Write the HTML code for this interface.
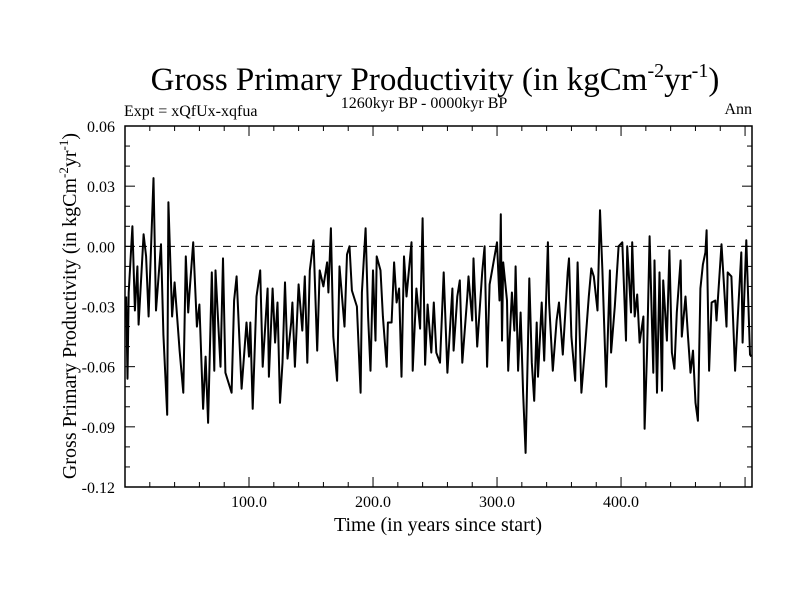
<!DOCTYPE html>
<html><head><meta charset="utf-8"><style>
body{margin:0;background:#fff}
svg{display:block;font-family:"Liberation Serif",serif}
</style></head><body>
<svg id="chart" width="800" height="600">
<text x="435" y="90" text-anchor="middle" font-size="33">Gross Primary Productivity (in kgCm<tspan dy="-13" font-size="20">-2</tspan><tspan dy="13">yr</tspan><tspan dy="-13" font-size="20">-1</tspan><tspan dy="13">)</tspan></text>
<text x="124" y="116" font-size="16">Expt = xQfUx-xqfua</text>
<text x="424" y="108" text-anchor="middle" font-size="16">1260kyr BP - 0000kyr BP</text>
<text x="752" y="114" text-anchor="end" font-size="16">Ann</text>
<text transform="translate(76,306) rotate(-90)" text-anchor="middle" font-size="20">Gross Primary Productivity (in kgCm<tspan dy="-8" font-size="13">-2</tspan><tspan dy="8">yr</tspan><tspan dy="-8" font-size="13">-1</tspan><tspan dy="8">)</tspan></text>
<text x="438" y="531" text-anchor="middle" font-size="20">Time (in years since start)</text>
<g id="ticks"></g>
<g id="plot"></g>
<rect x="125" y="126" width="627" height="361" fill="none" stroke="#000" stroke-width="1.5"/>
</svg>
<script>
const years=[1,2,3,6,8,10,11,15,17,19,23,25,29,31,34,35,38,40,44,47,49,51,52,55,58,60,63,65,67,70,72,73,77,79,81,86,88,90,94,98,100,
101,103,106,109,111,115,116,119,121,123,125,127,129,131,134,135,137,140,143,145,147,149,152,155,157,160,163,164,166,168,171,173,177,179,181,183,187,190,191,194,196,198,200,
202,203,206,208,211,212,215,217,219,221,223,225,227,231,232,235,238,240,242,244,247,249,251,254,257,260,264,265,268,270,272,276,277,280,281,284,288,290,292,294,296,300,302,
303,304,305,308,309,312,314,315,317,319,321,323,325,326,328,330,332,333,336,338,341,342,345,348,350,353,357,358,360,363,365,368,371,374,376,378,381,383,385,388,391,392,395,398,401,
404,405,408,409,411,413,415,418,419,421,423,426,427,429,431,433,434,437,439,441,443,445,448,449,452,454,456,458,460,462,464,466,468,469,471,473,476,477,481,485,486,489,492,494,497,498,501,504,505];
const values=[-25,-66,-23,10,-32,-10,-39,6,-5,-35,34,-32,1,-44,-84,22,-35,-18,-52,-73,-5,-33,-23,2,-40,-29,-81,-55,-88,-13,-62,-12,-60,-6,-63,-73,-27,-15,-71,-38,-55,
-38,-81,-25,-12,-60,-21,-65,-21,-48,-28,-78,-58,-18,-56,-38,-28,-60,-19,-42,-15,-58,-12,3,-52,-12,-20,-8,-23,9,-45,-67,-10,-40,-4,0,-22,-30,-73,-23,9,-35,-62,-12,
-47,-5,-12,-35,-60,-38,-38,-8,-28,-21,-65,-5,-25,2,-62,-21,-41,14,-59,-29,-53,-28,-53,-58,-13,-63,-21,-52,-25,-17,-58,-25,-15,-37,-6,-50,-13,0,-60,-19,-12,2,-27,
16,-47,-8,-27,-62,-23,-42,-10,-62,-33,-73,-103,-48,-16,-58,-77,-38,-65,-28,-57,2,-28,-62,-37,-28,-54,-13,-6,-45,-67,-8,-73,-50,-25,-11,-15,-32,18,-12,-70,-12,-53,-30,0,2,
-47,0,-33,2,-35,-24,-48,-35,-91,-52,5,-63,-7,-73,-13,-72,-17,-47,-2,-53,-61,-33,-7,-45,-25,-45,-63,-52,-78,-87,-21,-9,-3,8,-62,-28,-27,-37,1,-40,-13,-15,-62,-37,-3,-48,3,-54,-55];
const yTickValues=[-0.12,-0.09,-0.06,-0.03,0,0.03,0.06];
const yTickLabels=["-0.12","-0.09","-0.06","-0.03","0.00","0.03","0.06"];
const xTickValues=[100,200,300,400];
const xTickLabels=["100.0","200.0","300.0","400.0"];
const X0=125,X1=752,Y0=126,Y1=487;
const xs=v=>X0+(v-0)*(X1-X0)/505.6;
const ys=v=>Y1-(v+0.12)*(Y1-Y0)/0.18;
const NS="http://www.w3.org/2000/svg";
const tk=document.getElementById('ticks'),pl=document.getElementById('plot');
function ln(g,x1,y1,x2,y2,w,dash){const l=document.createElementNS(NS,'line');l.setAttribute('x1',x1);l.setAttribute('y1',y1);l.setAttribute('x2',x2);l.setAttribute('y2',y2);l.setAttribute('stroke','#000');l.setAttribute('stroke-width',w||1);if(dash)l.setAttribute('stroke-dasharray',dash);g.appendChild(l);return l;}
for(let v=-0.12;v<=0.0601;v+=0.01){const y=ys(v);const major=Math.abs(Math.round(v*100)%3)===0;const L=major?10:5;
const a=ln(tk,X0,y,X0+L,y);
const b=ln(tk,X1,y,X1-L,y);}
yTickValues.forEach((v,i)=>{const t=document.createElementNS(NS,'text');t.setAttribute('x',115);t.setAttribute('y',ys(v)+6);t.setAttribute('text-anchor','end');t.setAttribute('font-size','16');t.textContent=yTickLabels[i];


tk.appendChild(t);});
for(let v=20;v<=500;v+=20){const x=xs(v);const major=v%100===0;const L=major?10:5;
const a=ln(tk,x,Y1,x,Y1-L);
const b=ln(tk,x,Y0,x,Y0+L);}
xTickValues.forEach((v,i)=>{const t=document.createElementNS(NS,'text');t.setAttribute('x',xs(v));t.setAttribute('y',507);t.setAttribute('text-anchor','middle');t.setAttribute('font-size','16');t.textContent=xTickLabels[i];


tk.appendChild(t);});
const z=ln(pl,X0,ys(0),X1,ys(0),1,'8,6');


const p=document.createElementNS(NS,'polyline');
p.setAttribute('points',values.map((v,i)=>xs(years[i]).toFixed(1)+','+ys(v/1000).toFixed(1)).join(' '));
p.setAttribute('fill','none');p.setAttribute('stroke','#000');p.setAttribute('stroke-width','2');p.setAttribute('stroke-linejoin','round');


pl.appendChild(p);
</script>
</body></html>
